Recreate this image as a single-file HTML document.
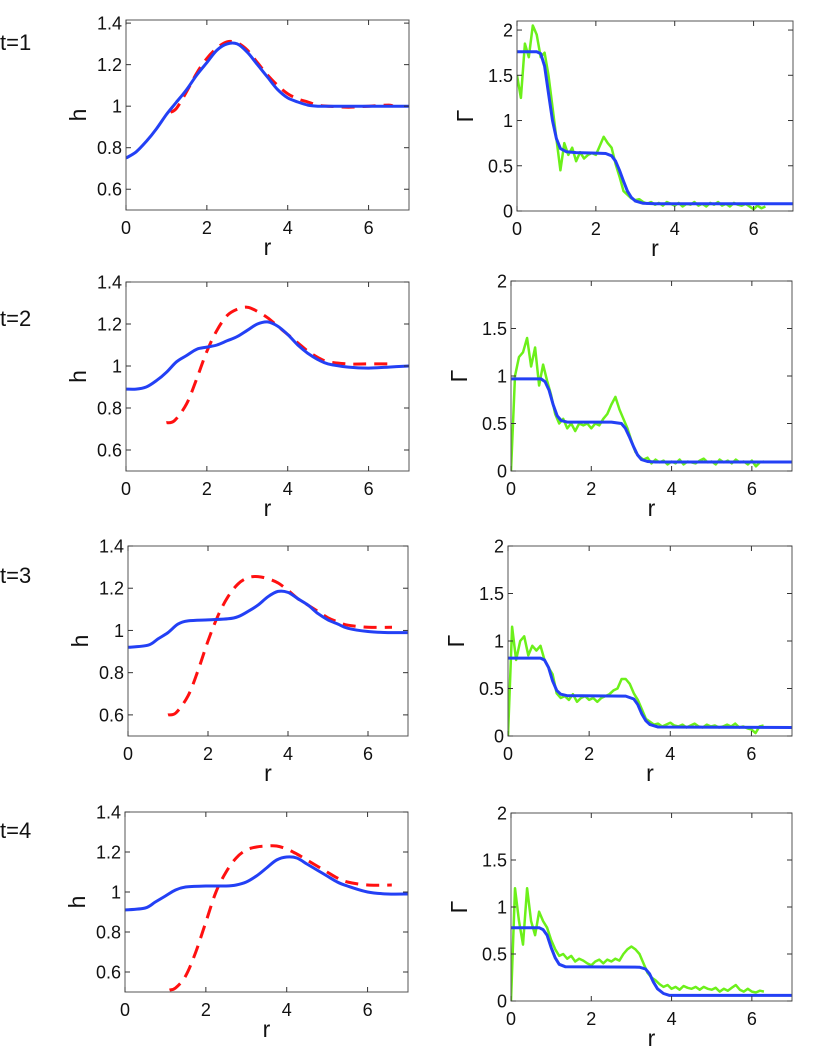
<!DOCTYPE html>
<html><head><meta charset="utf-8">
<style>
html,body{margin:0;padding:0;background:#fff;}
svg{display:block;font-family:"Liberation Sans",sans-serif;}
</style></head>
<body>
<svg id="fig" width="830" height="1059" viewBox="0 0 830 1059" xmlns="http://www.w3.org/2000/svg"></svg>
<script>
// ---- h panels data ----
const hBlueR1 = [0,0.25,0.5,0.75,1,1.25,1.5,1.75,2,2.25,2.5,2.75,3,3.25,3.5,3.75,4,4.25,4.5,4.75,5,5.5,6,6.5,7];
const hBlueV1 = [0.75,0.78,0.83,0.89,0.96,1.02,1.08,1.15,1.21,1.27,1.30,1.30,1.26,1.2,1.14,1.08,1.04,1.02,1.005,1.0,1.0,1.0,1.0,1.0,1.0];
const hRedR1 = [1.1,1.25,1.5,1.75,2,2.25,2.5,2.75,3,3.25,3.5,3.75,4,4.25,4.5,4.75,5,5.5,6,6.5,6.6];
const hRedV1 = [0.97,0.99,1.07,1.16,1.23,1.28,1.31,1.305,1.27,1.21,1.15,1.10,1.06,1.035,1.02,1.005,1.0,0.995,1.0,1.005,1.0];

const hBlueR2 = [0,0.25,0.5,0.75,1,1.25,1.5,1.75,2,2.25,2.5,2.75,3,3.25,3.5,3.75,4,4.25,4.5,4.75,5,5.5,6,6.5,7];
const hBlueV2 = [0.89,0.89,0.9,0.93,0.97,1.02,1.05,1.08,1.09,1.1,1.12,1.14,1.17,1.2,1.21,1.19,1.15,1.1,1.06,1.03,1.01,0.995,0.99,0.995,1.0];
const hRedR2 = [1,1.2,1.5,1.75,2,2.25,2.5,2.75,3,3.25,3.5,3.75,4,4.25,4.5,4.75,5,5.5,6,6.6];
const hRedV2 = [0.73,0.74,0.82,0.94,1.07,1.17,1.24,1.27,1.28,1.26,1.23,1.19,1.15,1.11,1.07,1.04,1.02,1.01,1.01,1.01];

const hBlueR3 = [0,0.5,0.75,1,1.25,1.5,2,2.5,2.75,3,3.25,3.5,3.75,4,4.25,4.5,4.75,5,5.25,5.5,6,6.5,7];
const hBlueV3 = [0.92,0.93,0.96,0.99,1.03,1.045,1.05,1.055,1.065,1.09,1.12,1.16,1.185,1.18,1.15,1.12,1.08,1.05,1.03,1.01,0.995,0.99,0.99];
const hRedR3 = [1.0,1.2,1.5,1.75,2,2.25,2.5,2.75,3,3.25,3.5,3.75,4,4.25,4.5,4.75,5,5.25,5.5,6,6.6];
const hRedV3 = [0.6,0.61,0.69,0.81,0.95,1.07,1.16,1.22,1.25,1.255,1.245,1.225,1.19,1.15,1.12,1.09,1.06,1.04,1.025,1.015,1.015];

const hBlueR4 = [0,0.5,0.75,1,1.25,1.5,2,2.5,2.75,3,3.25,3.5,3.75,4,4.25,4.5,4.75,5,5.25,5.5,6,6.5,7];
const hBlueV4 = [0.91,0.92,0.95,0.98,1.01,1.025,1.03,1.03,1.035,1.05,1.08,1.12,1.16,1.175,1.17,1.14,1.11,1.08,1.05,1.03,1.0,0.99,0.99];
const hRedR4 = [1.1,1.25,1.5,1.75,2,2.25,2.5,2.75,3,3.25,3.5,3.75,4,4.25,4.5,4.75,5,5.25,5.5,6,6.6];
const hRedV4 = [0.51,0.52,0.58,0.7,0.85,1.0,1.1,1.17,1.21,1.225,1.23,1.23,1.215,1.19,1.16,1.13,1.1,1.07,1.05,1.035,1.035];

// ---- Gamma panels data ----
const gBlueR1 = [0,0.5,0.6,0.7,0.8,0.9,1.0,1.1,1.25,1.5,2,2.25,2.4,2.5,2.6,2.7,2.8,2.9,3.0,3.2,3.5,7];
const gBlueV1 = [1.76,1.76,1.74,1.6,1.3,1.0,0.8,0.69,0.655,0.645,0.64,0.635,0.61,0.55,0.45,0.33,0.22,0.15,0.11,0.085,0.08,0.08];
const gBlueR2 = [0,0.75,0.85,0.95,1.05,1.15,1.25,1.4,2.5,2.75,2.85,2.95,3.05,3.15,3.25,3.4,3.6,7];
const gBlueV2 = [0.97,0.97,0.94,0.85,0.7,0.58,0.53,0.515,0.515,0.5,0.45,0.36,0.26,0.17,0.12,0.1,0.095,0.095];
const gBlueR3 = [0,0.8,0.9,1.0,1.1,1.2,1.3,1.45,2.9,3.1,3.2,3.3,3.4,3.5,3.7,7];
const gBlueV3 = [0.82,0.82,0.8,0.72,0.58,0.48,0.44,0.425,0.42,0.39,0.33,0.23,0.16,0.12,0.095,0.09];
const gBlueR4 = [0,0.7,0.8,0.9,1.0,1.1,1.2,1.35,3.2,3.35,3.45,3.55,3.65,3.8,3.95,7];
const gBlueV4 = [0.78,0.78,0.76,0.7,0.57,0.46,0.39,0.365,0.36,0.34,0.29,0.2,0.13,0.08,0.06,0.06];

// green noisy series, sampled every 0.1 in r from 0
const greenStep = 0.1;
const gGreen1 = [1.5,1.25,1.85,1.7,2.05,1.95,1.7,1.75,1.5,1.15,0.8,0.45,0.75,0.62,0.7,0.55,0.65,0.58,0.62,0.64,0.62,0.72,0.82,0.75,0.7,0.52,0.38,0.22,0.18,0.14,0.12,0.13,0.1,0.08,0.1,0.07,0.09,0.06,0.1,0.08,0.06,0.09,0.05,0.08,0.07,0.1,0.06,0.08,0.05,0.09,0.07,0.1,0.06,0.08,0.05,0.09,0.07,0.06,0.08,0.05,0.02,0.06,0.03,0.05];
const gGreen2 = [0.0,1.0,1.2,1.25,1.4,1.1,1.3,0.9,1.12,0.95,0.8,0.6,0.5,0.55,0.45,0.5,0.42,0.5,0.48,0.5,0.45,0.5,0.48,0.55,0.6,0.7,0.78,0.65,0.55,0.45,0.32,0.2,0.15,0.12,0.14,0.08,0.12,0.09,0.11,0.07,0.1,0.08,0.12,0.07,0.1,0.09,0.08,0.11,0.13,0.09,0.1,0.07,0.12,0.09,0.11,0.08,0.12,0.09,0.1,0.07,0.11,0.05,0.09,0.1];
const gGreen3 = [0.0,1.15,0.8,1.0,1.05,0.85,0.95,0.9,0.95,0.8,0.72,0.65,0.45,0.4,0.42,0.38,0.44,0.36,0.4,0.42,0.38,0.4,0.36,0.4,0.42,0.44,0.48,0.5,0.6,0.6,0.55,0.45,0.38,0.28,0.18,0.15,0.12,0.13,0.1,0.12,0.14,0.11,0.1,0.12,0.09,0.11,0.13,0.1,0.09,0.12,0.1,0.11,0.09,0.1,0.12,0.1,0.13,0.09,0.1,0.08,0.07,0.03,0.1,0.11];
const gGreen4 = [0.0,1.2,0.85,0.6,1.2,0.85,0.7,0.95,0.85,0.78,0.65,0.55,0.48,0.5,0.45,0.48,0.42,0.45,0.43,0.4,0.38,0.42,0.44,0.4,0.44,0.42,0.45,0.43,0.5,0.55,0.58,0.55,0.5,0.4,0.3,0.25,0.22,0.18,0.15,0.17,0.13,0.15,0.12,0.16,0.14,0.13,0.15,0.12,0.15,0.13,0.12,0.14,0.1,0.13,0.11,0.14,0.17,0.12,0.1,0.13,0.1,0.09,0.11,0.1];

const xTicks = [0,2,4,6];
const hTicks = [0.6,0.8,1,1.2,1.4];
const hTickLabels = ["0.6","0.8","1","1.2","1.4"];
const gTicks = [0,0.5,1,1.5,2];
const gTickLabels = ["0","0.5","1","1.5","2"];
const rowLabels = ["t=1","t=2","t=3","t=4"];

const NS = "http://www.w3.org/2000/svg";
const svg = document.getElementById('fig');
function mk(tag, attrs, parent){ const e=document.createElementNS(NS,tag); for(const k in attrs) e.setAttribute(k,attrs[k]); (parent||svg).appendChild(e); return e; }

function smoothPath(pts){
  let d='M'+pts[0][0].toFixed(1)+','+pts[0][1].toFixed(1);
  for(let i=0;i<pts.length-1;i++){
    const p0=pts[Math.max(0,i-1)], p1=pts[i], p2=pts[i+1], p3=pts[Math.min(pts.length-1,i+2)];
    const c1x=p1[0]+(p2[0]-p0[0])/6, c1y=p1[1]+(p2[1]-p0[1])/6;
    const c2x=p2[0]-(p3[0]-p1[0])/6, c2y=p2[1]-(p3[1]-p1[1])/6;
    d+='C'+c1x.toFixed(1)+','+c1y.toFixed(1)+' '+c2x.toFixed(1)+','+c2y.toFixed(1)+' '+p2[0].toFixed(1)+','+p2[1].toFixed(1);
  }
  return d;
}

function panel(name, box, ylim, yTicks, yLabels, ylab, ylabX, series){
  const g = mk('g',{});
  
  
  const [x0,x1,y0,y1] = box;
  const sx = v => x0 + (v-0)/(7-0)*(x1-x0);
  const sy = v => y1 - (v-ylim[0])/(ylim[1]-ylim[0])*(y1-y0);
  const clip = 'clip-'+name;
  const cp = mk('clipPath',{id:clip},g); mk('rect',{x:x0,y:y0,width:x1-x0,height:y1-y0},cp);
  const sg = mk('g',{'clip-path':'url(#'+clip+')'},g);
  series.forEach(s=>{
    const pts = s.v.map((v,i)=>[sx(s.r ? s.r[i] : i*greenStep), sy(v)]);
    let d;
    if(s.smooth) d = smoothPath(pts);
    else d = pts.map((p,i)=>(i?'L':'M')+p[0].toFixed(1)+','+p[1].toFixed(1)).join('');
    const p = mk('path',{d:d,fill:'none',stroke:s.c,'stroke-width':s.w,'stroke-linejoin':'round'},sg);
    if(s.dash) p.setAttribute('stroke-dasharray', s.dash);
    
    
  });
  const frame = mk('rect',{x:x0,y:y0,width:x1-x0,height:y1-y0,fill:'none',stroke:'#555','stroke-width':1},g);
  
  
  xTicks.forEach(t=>{
    const X=sx(t);
    mk('line',{x1:X,x2:X,y1:y1,y2:y1-5,stroke:'#333'},g);
    mk('line',{x1:X,x2:X,y1:y0,y2:y0+5,stroke:'#333'},g);
    const tx = mk('text',{x:X,y:y1+24,'font-size':18,'text-anchor':'middle',fill:'#111'},g);
    tx.textContent = t;
    
    
  });
  yTicks.forEach((t,i)=>{
    const Y=sy(t);
    mk('line',{x1:x0,x2:x0+5,y1:Y,y2:Y,stroke:'#333'},g);
    mk('line',{x1:x1,x2:x1-5,y1:Y,y2:Y,stroke:'#333'},g);
    const tx = mk('text',{x:x0-4,y:Y+6.5,'font-size':18,'text-anchor':'end',fill:'#111'},g);
    tx.textContent = yLabels[i];
    
    
  });
  const xl = mk('text',{x:(x0+x1)/2,y:y1+45,'font-size':23,'text-anchor':'middle',fill:'#111'},g);
  xl.textContent='r';
  
  
  const yc=(y0+y1)/2;
  const yl = mk('text',{x:ylabX,y:yc,'font-size':23,'text-anchor':'middle',fill:'#111',transform:'rotate(-90 '+ylabX+' '+yc+')'},g);
  yl.textContent=ylab;
  
  
}

const BLUE='#2340f5', RED='#ff1010', GREEN='#6cf01a';
const hB=[[hBlueR1,hBlueV1,hRedR1,hRedV1],[hBlueR2,hBlueV2,hRedR2,hRedV2],[hBlueR3,hBlueV3,hRedR3,hRedV3],[hBlueR4,hBlueV4,hRedR4,hRedV4]];
const gB=[[gBlueR1,gBlueV1,gGreen1],[gBlueR2,gBlueV2,gGreen2],[gBlueR3,gBlueV3,gGreen3],[gBlueR4,gBlueV4,gGreen4]];
const leftBoxes=[[126,409,20,210],[126,409,282,471],[128,408,546,736],[125,408,812,992]];
const leftYlim=[[0.5,1.415],[0.5,1.4],[0.5,1.4],[0.5,1.4]];
const rightBoxes=[[517,793,21,211],[511,792,281,471],[508,792,546,736],[511,792,813,1001]];
const rightYlim=[[0,2.1],[0,2],[0,2],[0,2]];
const tLabelY=[50,326,583,838];

for(let i=0;i<4;i++){
  panel('h-panel-t'+(i+1), leftBoxes[i], leftYlim[i], hTicks, hTickLabels, 'h', leftBoxes[i][0]-40, [
    {r:hB[i][2], v:hB[i][3], c:RED, w:3, dash:'13 8', smooth:true, name:'h-dashed-red'},
    {r:hB[i][0], v:hB[i][1], c:BLUE, w:3, smooth:true, name:'h-solid-blue'}
  ]);
  panel('gamma-panel-t'+(i+1), rightBoxes[i], rightYlim[i], gTicks, gTickLabels, 'Γ', rightBoxes[i][0]-44, [
    {r:null, v:gB[i][2], c:GREEN, w:2.5, name:'gamma-green-noisy'},
    {r:gB[i][0], v:gB[i][1], c:BLUE, w:3, smooth:false, name:'gamma-solid-blue'}
  ]);
  const tl = mk('text',{x:0,y:tLabelY[i],'font-size':22,fill:'#111'});
  tl.textContent = rowLabels[i];
  
  
}
</script>
</body></html>
